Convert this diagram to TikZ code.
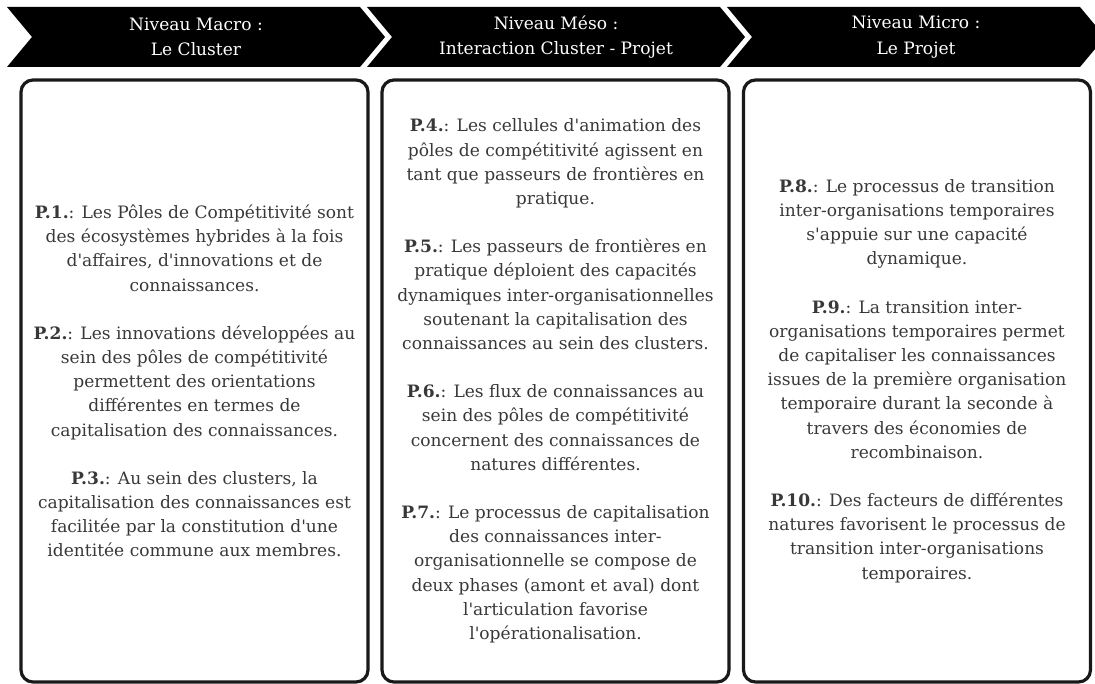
\documentclass[tikz,border=0pt]{standalone}
\usepackage{fontspec}
\setmainfont{DejaVu Serif}
\newcommand{\ap}{\textquotesingle}
\begin{document}
\begin{tikzpicture}[x=0.75pt,y=-0.75pt,
    titre/.style={text=white,align=center,font=\fontsize{12.8}{19}\selectfont},
    boite/.style={draw=black!90,line width=2.4pt,rounded corners=9pt,
      minimum width=260.25pt,minimum height=451.5pt,inner sep=0pt,
      align=center,text=black!78,font=\fontsize{12.8}{18.15}\selectfont}]
\useasboundingbox (0,0) rectangle (1095,684);

% Bandeaux en chevron
\foreach \x in {7,367,727}
  \fill (\x,7) -- (\x+353,7) -- (\x+378,37) -- (\x+353,67) -- (\x,67) -- (\x+25,37) -- cycle;

% Titres des niveaux
\node[titre] (macro) at (196,37) {Niveau Macro :\\Le Cluster};
\node[titre] (meso) at (556,37) {Niveau Méso :\\Interaction Cluster - Projet};
\node[titre] (micro) at (916,37) {Niveau Micro :\\Le Projet};

% Niveau macro
\node[boite] (cluster) at (194.5,381) {%
  \textbf{P.1.}: Les Pôles de Compétitivité sont\\
  des écosystèmes hybrides à la fois\\
  d\ap affaires, d\ap innovations et de\\
  connaissances.\\[18pt]
  \textbf{P.2.}: Les innovations développées au\\
  sein des pôles de compétitivité\\
  permettent des orientations\\
  différentes en termes de\\
  capitalisation des connaissances.\\[18pt]
  \textbf{P.3.}: Au sein des clusters, la\\
  capitalisation des connaissances est\\
  facilitée par la constitution d\ap une\\
  identitée commune aux membres.};

% Niveau meso
\node[boite] (interaction) at (555.5,381) {%
  \textbf{P.4.}: Les cellules d\ap animation des\\
  pôles de compétitivité agissent en\\
  tant que passeurs de frontières en\\
  pratique.\\[18pt]
  \textbf{P.5.}: Les passeurs de frontières en\\
  pratique déploient des capacités\\
  dynamiques inter-organisationnelles\\
  soutenant la capitalisation des\\
  connaissances au sein des clusters.\\[18pt]
  \textbf{P.6.}: Les flux de connaissances au\\
  sein des pôles de compétitivité\\
  concernent des connaissances de\\
  natures différentes.\\[18pt]
  \textbf{P.7.}: Le processus de capitalisation\\
  des connaissances inter-\\
  organisationnelle se compose de\\
  deux phases (amont et aval) dont\\
  l\ap articulation favorise\\
  l\ap opérationalisation.};

% Niveau micro
\node[boite] (projet) at (917,381) {%
  \textbf{P.8.}: Le processus de transition\\
  inter-organisations temporaires\\
  s\ap appuie sur une capacité\\
  dynamique.\\[18pt]
  \textbf{P.9.}: La transition inter-\\
  organisations temporaires permet\\
  de capitaliser les connaissances\\
  issues de la première organisation\\
  temporaire durant la seconde à\\
  travers des économies de\\
  recombinaison.\\[18pt]
  \textbf{P.10.}: Des facteurs de différentes\\
  natures favorisent le processus de\\
  transition inter-organisations\\
  temporaires.};
\end{tikzpicture}
\end{document}
